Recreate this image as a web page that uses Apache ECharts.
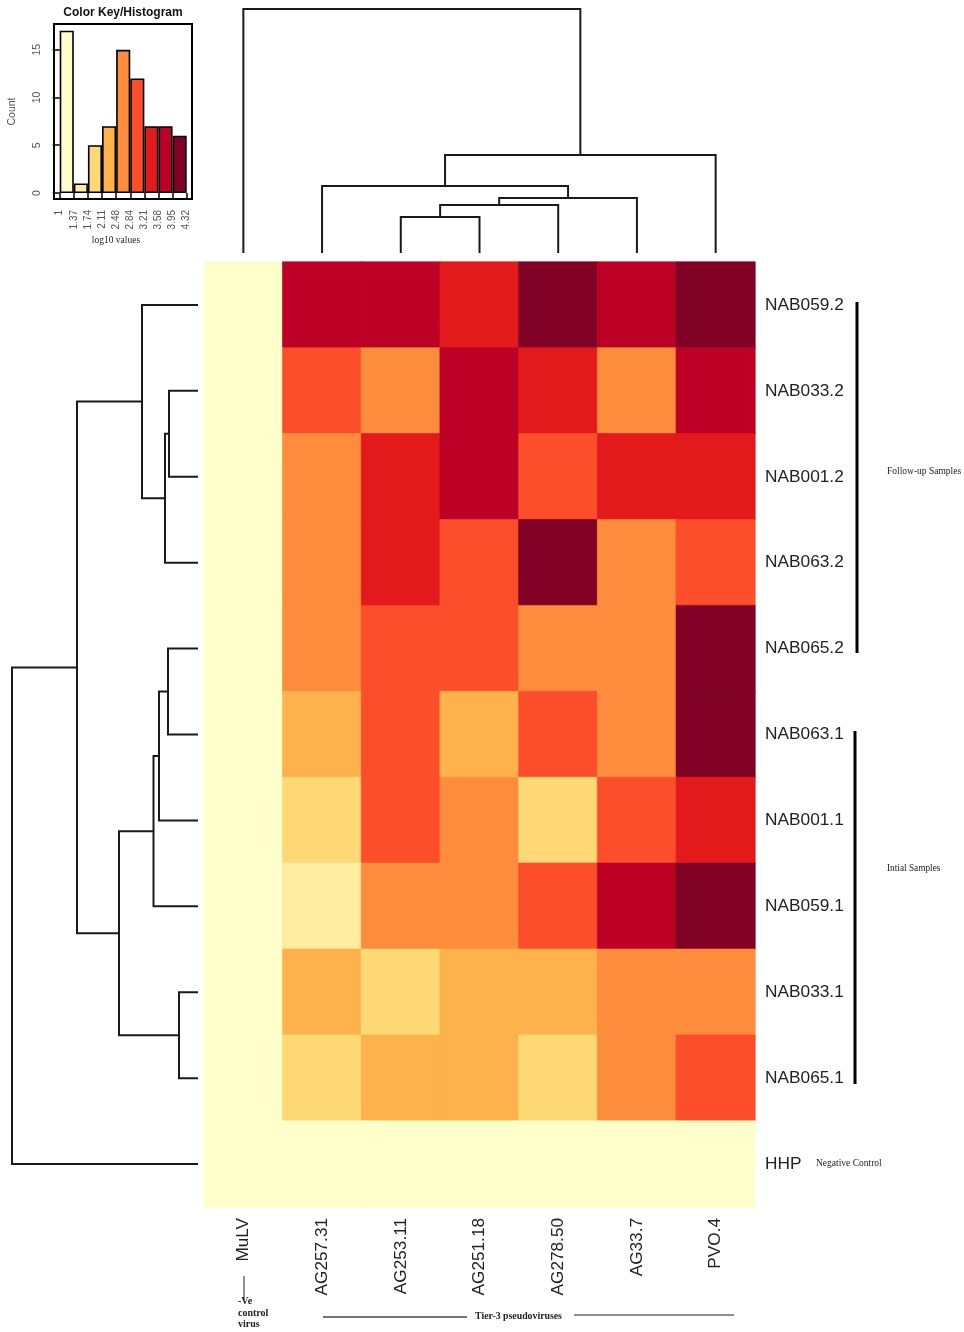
<!DOCTYPE html>
<html>
<head>
<meta charset="utf-8">
<style>
html, body { margin: 0; padding: 0; background: #fff; }
#chart { width: 964px; height: 1332px; }
</style>
<script src="https://cdn.jsdelivr.net/npm/echarts@6/dist/echarts.min.js"></script>
</head>
<body>
<div id="chart"></div>
<script>
const colLabels = ["MuLV", "AG257.31", "AG253.11", "AG251.18", "AG278.50", "AG33.7", "PVO.4"]
const rowLabels = ["NAB059.2", "NAB033.2", "NAB001.2", "NAB063.2", "NAB065.2", "NAB063.1", "NAB001.1", "NAB059.1", "NAB033.1", "NAB065.1", "HHP"]

// colour bin of every cell, row by row (0 = lowest bin of the colour key)
const heatBins = [
    [0, 7, 7, 6, 8, 7, 8],
    [0, 5, 4, 7, 6, 4, 7],
    [0, 4, 6, 7, 5, 6, 6],
    [0, 4, 6, 5, 8, 4, 5],
    [0, 4, 5, 5, 4, 4, 8],
    [0, 3, 5, 3, 5, 4, 8],
    [0, 2, 5, 4, 2, 5, 6],
    [0, 1, 4, 4, 5, 7, 8],
    [0, 3, 2, 3, 3, 4, 4],
    [0, 2, 3, 3, 2, 4, 5],
    [0, 0, 0, 0, 0, 0, 0]
]

const binColors = ["#FFFFCC", "#FFEDA0", "#FED976", "#FEB24C", "#FD8D3C", "#FC4E2A", "#E31A1C", "#BD0026", "#800026"]
const histCounts = [17, 1, 5, 7, 15, 12, 7, 7, 6]
const histBreaks = ["1", "1.37", "1.74", "2.11", "2.48", "2.84", "3.21", "3.58", "3.95", "4.32"]
const countTicks = [0, 5, 10, 15]

// merges like hclust: negative = leaf number, positive = earlier merge, then height
const colMerges = [[-3, -4, 36], [1, -5, 48], [2, -6, 55], [-2, 3, 67], [4, -7, 98], [-1, 5, 244]]
const rowMerges = [[-2, -3, 29], [1, -4, 33], [-1, 2, 56], [-5, -6, 30], [4, -7, 39], [5, -8, 44.5], [-9, -10, 19], [6, 7, 79], [3, 8, 121], [9, -11, 186]]

const SANS = "Liberation Sans"
const SERIF = "Liberation Serif"
const INK = "#1a1a1a"

function dendroSegments(merges) {
    const nodes = []
    function node(id) {
        if (id < 0) return { pos: -id - 0.5, h: 0 }
        return nodes[id - 1]
    }
    return merges.map(function (m) {
        const a = node(m[0])
        const b = node(m[1])
        nodes.push({ pos: (a.pos + b.pos) / 2, h: m[2] })
        return [[a.pos, a.h], [a.pos, m[2]], [b.pos, m[2]], [b.pos, b.h]]
    })
}

function dendroSeries(merges, gridIdx, flip) {
    return dendroSegments(merges).map(function (seg) {
        return {
            type: "line",
            xAxisIndex: gridIdx,
            yAxisIndex: gridIdx,
            data: flip ? seg.map(p => [p[1], p[0]]) : seg,
            showSymbol: false,
            silent: true,
            clip: false,
            animation: false,
            lineStyle: { color: INK, width: 2, join: "miter" }
        }
    })
}

const heatData = []
heatBins.forEach(function (row, r) {
    row.forEach(function (v, c) {
        // thin same-colour border hides the seams between cells
        heatData.push({ value: [c, r, v], itemStyle: { borderColor: binColors[v], borderWidth: 0.6 } })
    })
})

function note(x, y, str, size, bold, align) {
    return {
        type: "text", x: x, y: y, silent: true,
        style: {
            text: str, fill: "#222", align: align || "left", verticalAlign: "middle",
            font: (bold ? "bold " : "") + size + "px '" + SERIF + "'"
        }
    }
}
function rule(x1, y1, x2, y2, w, color) {
    return { type: "line", silent: true, shape: { x1: x1, y1: y1, x2: x2, y2: y2 }, style: { stroke: color, lineWidth: w } }
}

const chart = echarts.init(document.getElementById("chart"), null, { renderer: "canvas" })
chart.setOption({
    animation: false,
    backgroundColor: "#fff",
    grid: [
        { left: 204, top: 262, width: 551, height: 945 },
        { left: 204, top: 9, width: 551, height: 244 },
        { left: 12, top: 262, width: 186, height: 945 },
        { left: 54, top: 24, width: 138, height: 175, show: true, borderColor: "#000", borderWidth: 2, backgroundColor: "#fff" }
    ],
    xAxis: [
        {
            type: "category", gridIndex: 0, data: colLabels, position: "bottom",
            axisLine: { show: false }, axisTick: { show: false }, splitLine: { show: false },
            axisLabel: { rotate: 90, margin: 11, fontSize: 17.2, fontFamily: SANS, color: "#222", padding: [4, 0, 0, 0] }
        },
        { type: "value", gridIndex: 1, min: 0, max: 7, show: false },
        { type: "value", gridIndex: 2, min: 0, max: 186, inverse: true, show: false },
        {
            type: "value", gridIndex: 3, min: -0.404, max: 9.376, splitLine: { show: false },
            axisLine: { show: false },
            axisTick: { show: true, length: 7, lineStyle: { color: "#000", width: 1.5 }, customValues: histBreaks.map((b, i) => i) },
            axisLabel: {
                rotate: 90, margin: 11, fontSize: 10, fontFamily: SANS, color: "#555",
                customValues: histBreaks.map((b, i) => i),
                formatter: v => histBreaks[v]
            }
        }
    ],
    yAxis: [
        {
            type: "category", gridIndex: 0, data: rowLabels, inverse: true, position: "right",
            axisLine: { show: false }, axisTick: { show: false }, splitLine: { show: false },
            axisLabel: { margin: 10, fontSize: 17.3, fontFamily: SANS, color: "#222", padding: [4, 0, 0, 0] }
        },
        { type: "value", gridIndex: 1, min: 0, max: 244, show: false },
        { type: "value", gridIndex: 2, min: 0, max: 11, inverse: true, show: false },
        {
            type: "value", gridIndex: 3, min: -0.63, max: 17.7, splitLine: { show: false },
            axisLine: { show: false },
            axisTick: { show: true, length: 7, lineStyle: { color: "#000", width: 1.5 }, customValues: countTicks },
            axisLabel: { rotate: 90, margin: 11, fontSize: 10.5, fontFamily: SANS, color: "#555", customValues: countTicks },
            name: "Count", nameLocation: "middle", nameGap: 36, nameRotate: 90,
            nameTextStyle: { fontSize: 10.5, fontFamily: SANS, color: "#555" }
        }
    ],
    visualMap: {
        show: false,
        seriesIndex: 0,
        type: "piecewise",
        pieces: binColors.map((c, i) => ({ value: i, color: c }))
    },
    series: [
        {
            type: "heatmap", xAxisIndex: 0, yAxisIndex: 0, data: heatData, silent: true
        },
        {
            type: "bar", xAxisIndex: 3, yAxisIndex: 3, barWidth: "100%", silent: true,
            data: histCounts.map((n, i) => ({
                value: [i + 0.5, n],
                itemStyle: { color: binColors[i], borderColor: "#000", borderWidth: 1.6 }
            }))
        }
    ].concat(dendroSeries(colMerges, 1, false), dendroSeries(rowMerges, 2, true)),
    graphic: [
        {
            type: "text", x: 123, y: 13, silent: true,
            style: { text: "Color Key/Histogram", fill: "#111", align: "center", verticalAlign: "middle", font: "bold 12px '" + SANS + "'" }
        },
        note(116, 240, "log10 values", 9.5, false, "center"),
        rule(857, 302, 857, 653, 3, "#000"),
        rule(855, 731, 855, 1084, 3, "#000"),
        note(887, 471, "Follow-up Samples", 9.5),
        note(887, 869, "Intial Samples", 9.3),
        note(816, 1163, "Negative Control", 9.5),
        rule(244, 1276, 244, 1300, 1, "#222"),
        note(238, 1301, "-Ve", 10, true),
        note(238, 1313, "control", 10, true),
        note(238, 1324, "virus", 10, true),
        rule(323, 1317, 467, 1317, 1.3, "#444"),
        note(518.5, 1316, "Tier-3 pseudoviruses", 9.8, true, "center"),
        rule(574, 1315, 734, 1315, 1, "#222")
    ]
})
</script>
</body>
</html>
